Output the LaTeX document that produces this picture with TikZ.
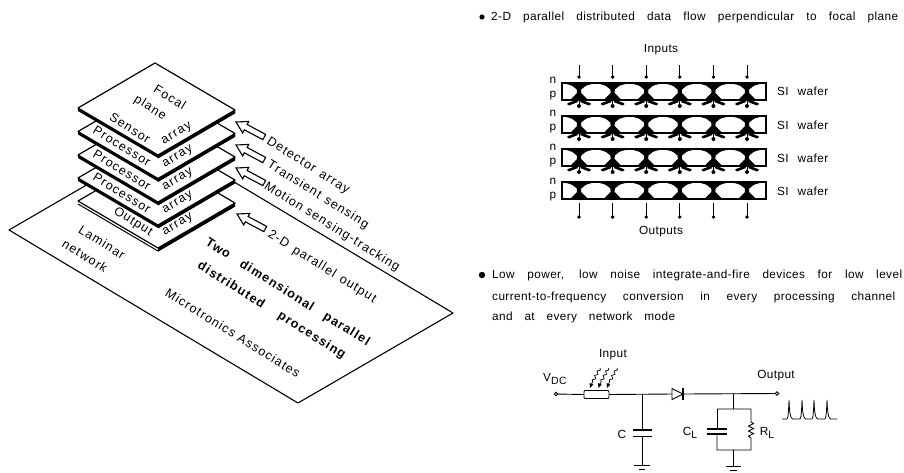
\documentclass[tikz,border=0pt]{standalone}
\usepackage{fontspec}
\setmainfont[LetterSpace=3.5]{Liberation Sans}
\newfontfamily\wide[LetterSpace=9]{Liberation Sans}
\usetikzlibrary{decorations.pathmorphing,arrows.meta}
\newcommand{\fit}[2]{\makebox[#1pt][s]{#2}}
\tikzset{
  plate/.style={fill=white,draw=black,line width=1.2pt,line join=round},
  hollow/.style={fill=white,draw=black,line width=1.1pt,line join=miter},
  rot/.style={inner sep=0pt,rotate=-32,font=\wide\fontsize{12.6}{14}\selectfont},
  pl/.style={inner sep=0pt,rotate=-32,font=\fontsize{12.5}{14}\selectfont},
  rotup/.style={inner sep=0pt,rotate=31,font=\fontsize{12.5}{14}\selectfont},
  body/.style={inner sep=0pt,anchor=west,font=\fontsize{11.8}{14}\selectfont},
  lab/.style={inner sep=0pt,font=\fontsize{11.8}{14}\selectfont},
  wire/.style={line width=0.9pt},
}
\begin{document}
\begin{tikzpicture}[x=1pt,y=-1pt]
\useasboundingbox (0,0) rectangle (904,472);
% laminar sheet
\draw[plate,line width=1.1pt] (9,230) -- (298,403) -- (453,313) -- (164,140) -- cycle;
% stacked plates, bottom up
\foreach \d/\g in {93/0,70/1,47/1,23.5/1,0/1}{
  \begin{scope}[yshift=-\d pt]
    \ifnum\g=0
      \draw[plate,line width=1pt] (78,111) -- (158,158) -- (235,113);
    \else
      \fill[black] (78,108) -- (78,111) -- (158,158) -- (235,113) -- (235,110) -- (158,155) -- cycle;
    \fi
    \fill[black] (158,155) -- (158,158.5) -- (235,113.5) -- (235,110) -- cycle;
    \draw[plate] (78,108) -- (155,63) -- (235,110) -- (158,155) -- cycle;
  \end{scope}
}
% hollow arrows
\foreach \x/\y in {236/122,236/145,236/168,237/214}{
  \draw[hollow,shift={(\x,\y)},rotate=-28] (0,0) -- (11,-6.5) -- (11,-3) -- (32,-3) -- (32,3) -- (11,3) -- (11,6.5) -- cycle;
}
% plate labels
\node[pl] (focal) at (170,97) {\wide Focal};
\node[pl] (plane) at (150,108) {\wide plane};
\node[pl] (sensor) at (130,128) {\wide Sensor};
\node[rotup] (a1) at (177,134) {\wide array};
\node[pl] (p1) at (122,146) {\wide Processor};
\node[rotup] (a2) at (178,157) {\wide array};
\node[pl] (p2) at (122,170) {\wide Processor};
\node[rotup] (a3) at (178,180) {\wide array};
\node[pl] (p3) at (122,193) {\wide Processor};
\node[rotup] (a4) at (178,203) {\wide array};
\node[pl] (outp) at (133,222) {\wide Output};
\node[rotup] (a5) at (178,225) {\wide array};
\node[pl] (lam1) at (102,242) {\wide Laminar};
\node[pl] (lam2) at (85,256) {\wide network};
\node[rot] (det) at (308,166) {\fit{95}{Detector array}};
\node[rot] (tra) at (318,195) {\fit{117}{Transient sensing}};
\node[rot] (mot) at (332,227) {\fit{157}{Motion sensing-tracking}};
\node[rot] (tdo) at (322,267) {\fit{125}{2-D parallel output}};
\node[rot] (two) at (288,293) {\fit{192}{\textbf{Two dimensional parallel}}};
\node[rot] (dis) at (272,311) {\fit{173}{\textbf{distributed processing}}};
\node[rot] (mic) at (233,333) {\fit{156}{Microtronics Associates}};
% right text
\fill (482,17) circle (2.6);
\node[body] (t1) at (491,17) {\fit{407}{2-D parallel distributed data flow perpendicular to focal plane}};
\fill (482,275) circle (3.2);
\node[body] (t2) at (492,275) {\fit{410}{Low power, low noise integrate-and-fire devices for low level}};
\node[body] (t3) at (492,297) {\fit{403}{current-to-frequency conversion in every processing channel}};
\node[body] (t4) at (492,317) {\fit{183}{and at every network mode}};
\node[lab] (inputs) at (661,50) {Inputs};
\node[lab] (outputs) at (661,232) {Outputs};
% wafers
\foreach \t/\k in {83/1,116/1,149/1,182/0}{
  \draw[line width=1.2pt] (562,\t) rectangle (766,\t+17);
  \foreach \c in {579,612.6,646.2,679.8,713.4,747}{
    \begin{scope}[shift={(\c,\t)}]
      \fill (-16.8,0) -- (16.8,0) -- (9,2) -- (6.5,3) -- (2.2,6.5) -- (2,10)
        -- (9,17) -- (-9,17) -- (-2,10) -- (-2.2,6.5) -- (-6.5,3) -- (-9,2) -- cycle;
      \ifnum\k=1
        \fill (-3,17) -- (-11,20) -- (-12,21) -- (-10,22.5) -- (-1,19) -- cycle;
        \fill (3,17) -- (11,20) -- (12,21) -- (10,22.5) -- (1,19) -- cycle;
        \draw[line width=1pt] (0,17) -- (0,22);
        \fill (0,23) circle (2);
      \fi
    \end{scope}
  }
}
% input and output arrows
\foreach \c in {579,612.6,646.2,679.8,713.4,747}{
  \draw[line width=0.9pt] (\c,65) -- (\c,77);
  \fill (\c,77) circle (1.9);
  \draw[line width=0.9pt] (\c,203) -- (\c,217);
  \fill (\c,217) circle (1.9);
}
\foreach \y/\n in {80/n,113/n,147/n,181/n,96/p,129/p,163/p,197/p}{
  \node[lab] at (553,\y) {\n};
}
\foreach \y in {91,125,158,191}{
  \node[lab,anchor=west] at (777,\y) {\fit{51}{SI wafer}};
}
% circuit
\node[lab] (cin) at (613,355) {Input};
\node[lab,anchor=west] (vdc) at (543,379) {V\raisebox{-2.5pt}{\fontsize{10.5}{12}\selectfont DC}};
\node[lab] (cout) at (776,376) {Output};
\node[lab] (cc) at (622,434) {C};
\node[lab] (ccl) at (690,433) {C\raisebox{-2.5pt}{\fontsize{10.5}{12}\selectfont L}};
\node[lab] (crl) at (767,433) {R\raisebox{-2.5pt}{\fontsize{10.5}{12}\selectfont L}};
\coordinate (tin) at (556,394);
\coordinate (tout) at (777,393.5);
\node[draw,wire,fill=white,rounded corners=1pt,minimum width=25pt,minimum height=8pt,inner sep=0pt] (res) at (596.5,394.5) {};
\draw[wire] (tin) -- (res.west);
\draw[wire,fill=white] (tin) circle (1.7);
\draw[wire] (res.east) -- (672,394);
\draw[wire,fill=white] (672,388.5) -- (683,394) -- (672,399.5) -- cycle;
\draw[line width=1.2pt] (683,388) -- (683,400);
\draw[wire] (683,394) -- (tout);
\draw[wire,fill=white] (tout) circle (1.7);
% C branch
\draw[wire] (642,394) -- (642,430);
\draw[line width=1.2pt] (633,430) -- (652,430);
\draw[line width=1.2pt] (633,436.5) -- (652,436.5);
\draw[wire] (642,436.5) -- (642,465);
\draw[wire] (634,465) -- (650,465);
\draw[wire] (639,469) -- (645,469);
% load branch
\draw[wire] (733,394) -- (733,409);
\draw[wire] (717,409) -- (751,409) -- (751,422)
  -- (753.5,423.5) -- (748.5,426) -- (753.5,428.5) -- (748.5,431) -- (753.5,433.5) -- (748.5,436) -- (751,438)
  -- (751,450) -- (717,450) -- (717,434);
\draw[wire] (717,409) -- (717,429);
\draw[line width=1.2pt] (707,429) -- (727,429);
\draw[line width=1.2pt] (707,434) -- (727,434);
\draw[wire] (733,450) -- (733,466);
\draw[wire] (726,466) -- (741,466);
\draw[wire] (730,470) -- (737,470);
% photons
\foreach \x in {590,598.5,607}{
  \draw[line width=0.7pt,decorate,decoration={snake,amplitude=1.3pt,segment length=5pt,post length=2.5pt}] (\x+10,368) -- (\x+1,385);
  \fill (\x,388) -- (\x+3.2,384.5) -- (\x-0.5,383) -- cycle;
}
% pulses
\draw[line width=0.8pt] (782,419)
  \foreach \s in {789,802,814,827}{ -- (\s-2,419) .. controls (\s-0.8,418) and (\s-0.4,410) .. (\s,400) .. controls (\s+0.4,410) and (\s+1,418) .. (\s+3.5,419) }
  -- (837,419);
\end{tikzpicture}
\end{document}
